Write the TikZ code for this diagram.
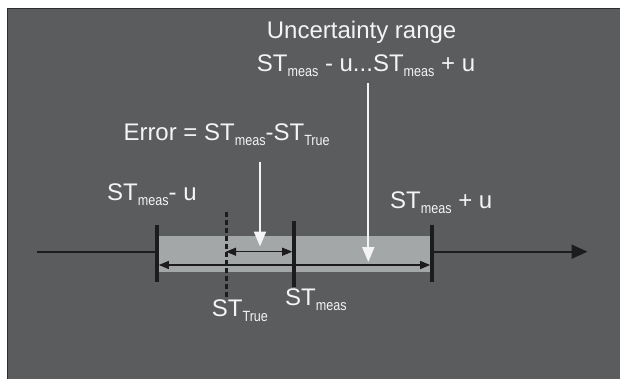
\documentclass[tikz,border=0pt]{standalone}
\usepackage{fontspec}
\setmainfont{Liberation Sans}
\newfontfamily\subfont[FakeStretch=0.85]{Liberation Sans}
\definecolor{PanelGrey}{HTML}{5B5C5E}
\definecolor{PanelEdge}{HTML}{2E2E2E}
\definecolor{BandGrey}{HTML}{A4A7A8}
\definecolor{InkBlack}{HTML}{1C1C1C}
\definecolor{TextWhite}{HTML}{F4F4F4}
\usepackage{tikz}
\usetikzlibrary{positioning,arrows.meta}
\newcommand{\stvar}[1]{ST\raisebox{-5pt}{\fontsize{14.8}{16}\subfont #1}}

\begin{document}
\begin{tikzpicture}[x=1pt,y=-1pt,
    lbl/.style={text=TextWhite, font=\fontsize{24}{28}\selectfont, inner sep=0pt, anchor=base west},
    tickmark/.style={fill=InkBlack, inner sep=0pt, minimum width=3.2pt},
    axisline/.style={draw=InkBlack, line width=2pt, -{Triangle[length=16pt,width=14pt]}},
    dimarrow/.style={draw=InkBlack, line width=1.2pt, {Triangle[length=10pt,width=8pt]}-{Triangle[length=10pt,width=8pt]}},
    pointer/.style={draw=TextWhite, line width=2pt, -{Triangle[length=15pt,width=12pt]}}]
  \useasboundingbox (0,0) rectangle (620,378);
  \fill[white] (0,0) rectangle (620,378);
  \filldraw[fill=PanelGrey, draw=PanelEdge, line width=1pt] (7.3,8.3) rectangle (621,379);
  \coordinate (start) at (36.7,251.7);
  \coordinate (end) at (587.5,251.7);
  \draw[axisline] (start) -- (end);
  \fill[BandGrey] (157,235.7) rectangle (432,272.3);
  \node[tickmark, minimum height=57pt] (lo) at (157,253.5) {};
  \node[tickmark, minimum height=66pt] (meas) at (294,254) {};
  \node[tickmark, minimum height=57pt] (hi) at (432,253.5) {};
  \coordinate (truetop) at (226,211.7);
  \coordinate (truebot) at (226,297);
  \draw[InkBlack, line width=3pt, dash pattern=on 5pt off 3pt] (truetop) -- (truebot);
  \coordinate (errmid) at (0,251.7);
  \coordinate (rngmid) at (0,265);
  \draw[dimarrow] (truetop |- errmid) -- (meas.west |- errmid);
  \draw[dimarrow] (lo.east |- rngmid) -- (hi.west |- rngmid);
  \node[lbl] (unctitle) at (266.7,38.3) {Uncertainty range};
  \node[lbl] (uncrange) at (256.7,71.7) {\stvar{meas} - u...\stvar{meas} + u};
  \node[lbl] (errtext) at (123.3,140) {Error = \stvar{meas}-\stvar{True}};
  \node[lbl] (lotext) at (107,200) {\stvar{meas}- u};
  \node[lbl] (hitext) at (390,208.3) {\stvar{meas} + u};
  \node[lbl] (truetext) at (211.7,316) {\stvar{True}};
  \node[lbl] (meastext) at (285,305) {\stvar{meas}};
  \coordinate (errtip) at (260,246.5);
  \coordinate (rngtip) at (368.3,262);
  \draw[pointer] (errtip |- 0,161.7) -- (errtip);
  \draw[pointer] (rngtip |- 0,83) -- (rngtip);
\end{tikzpicture}
\end{document}
